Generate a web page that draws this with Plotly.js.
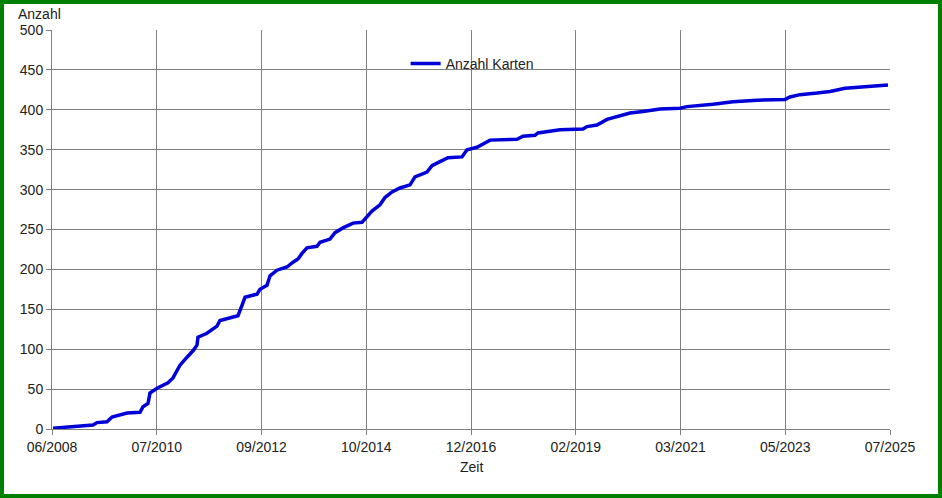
<!DOCTYPE html>
<html>
<head>
<meta charset="utf-8">
<script src="https://cdn.plot.ly/plotly-3.0.1.min.js"></script>
<style>
html,body{margin:0;padding:0;background:#fff;}
#wrap{position:relative;width:942px;height:498px;}
#chart{position:absolute;left:0;top:0;width:942px;height:498px;}
#frame{position:absolute;left:0;top:0;width:942px;height:498px;box-sizing:border-box;border:4px solid #008000;pointer-events:none;}
</style>
</head>
<body>
<div id="wrap"><div id="chart"></div><div id="frame"></div></div>
<script>
// Time as decimal years
const zeit = [2008.437,2008.845,2009.253,2009.334,2009.538,2009.640,2009.946,2010.211,2010.272,2010.374,2010.414,2010.557,2010.781,2010.883,2010.965,2011.026,2011.169,2011.291,2011.372,2011.393,2011.576,2011.780,2011.841,2012.045,2012.208,2012.290,2012.351,2012.596,2012.657,2012.800,2012.861,2013.003,2013.207,2013.330,2013.432,2013.513,2013.615,2013.819,2013.880,2014.084,2014.186,2014.349,2014.553,2014.736,2014.838,2014.940,2015.103,2015.205,2015.348,2015.511,2015.715,2015.817,2016.061,2016.163,2016.326,2016.489,2016.775,2016.877,2017.081,2017.346,2017.896,2018.018,2018.263,2018.324,2018.773,2019.241,2019.323,2019.527,2019.731,2019.935,2020.200,2020.465,2020.811,2021.219,2021.361,2021.892,2022.300,2022.789,2023.360,2023.462,2023.665,2024.012,2024.277,2024.583,2025.031,2025.459];
const anzahl = [1,3,5,8,9,15,20,21,28,32,45,51,58,64,72,80,90,98,105,115,120,129,136,139,142,155,165,169,175,180,192,199,203,209,213,220,227,229,234,238,246,252,258,259,266,273,281,290,297,302,306,316,322,330,335,340,341,350,353,362,363,367,368,371,375,376,379,381,388,391,396,398,401,402,404,407,410,412,413,416,419,421,423,427,429,431];
const tickLabels = ["06/2008","07/2010","09/2012","10/2014","12/2016","02/2019","03/2021","05/2023","07/2025"];
const xStart = 2008 + 5/12, xEnd = 2025 + 6/12;
const tickVals = tickLabels.map((_, i) => xStart + (xEnd - xStart) * i / (tickLabels.length - 1));

const font = {family: '"Liberation Sans", Arial, sans-serif', size: 14, color: '#222'};

Plotly.newPlot('chart', [{
  x: zeit, y: anzahl, type: 'scatter', mode: 'lines', name: 'Anzahl Karten',
  line: {color: '#0000d8', width: 3.5}
}], {
  width: 942, height: 498,
  margin: {l: 52, r: 52, t: 30, b: 69},
  paper_bgcolor: '#fff', plot_bgcolor: '#fff',
  font: font,
  showlegend: true,
  legend: {x: 0.422, y: 0.915, xanchor: 'left', yanchor: 'middle', bgcolor: 'rgba(0,0,0,0)', font: font, itemwidth: 30},
  xaxis: {
    range: [xStart, xEnd], tickvals: tickVals, ticktext: tickLabels,
    showgrid: true, gridcolor: '#808080', gridwidth: 1,
    showline: true, linecolor: '#808080', linewidth: 1,
    ticks: 'outside', ticklen: 5, tickcolor: '#808080',
    zeroline: false, tickfont: font, fixedrange: true
  },
  yaxis: {
    range: [0, 500], tickvals: [0,50,100,150,200,250,300,350,400,450,500],
    showgrid: true, gridcolor: '#808080', gridwidth: 1,
    showline: true, linecolor: '#808080', linewidth: 1,
    ticks: 'outside', ticklen: 5, tickcolor: '#808080',
    zeroline: false, tickfont: font, fixedrange: true
  },
  annotations: [
    {text: 'Anzahl', xref: 'paper', yref: 'paper', x: -0.0425, y: 1.0, xanchor: 'left', yanchor: 'bottom', yshift: 6, showarrow: false, font: font},
    {text: 'Zeit', xref: 'paper', yref: 'paper', x: 0.5, y: 0, xanchor: 'center', yanchor: 'top', yshift: -28, showarrow: false, font: font}
  ]
}, {displayModeBar: false, staticPlot: true});
</script>
</body>
</html>
